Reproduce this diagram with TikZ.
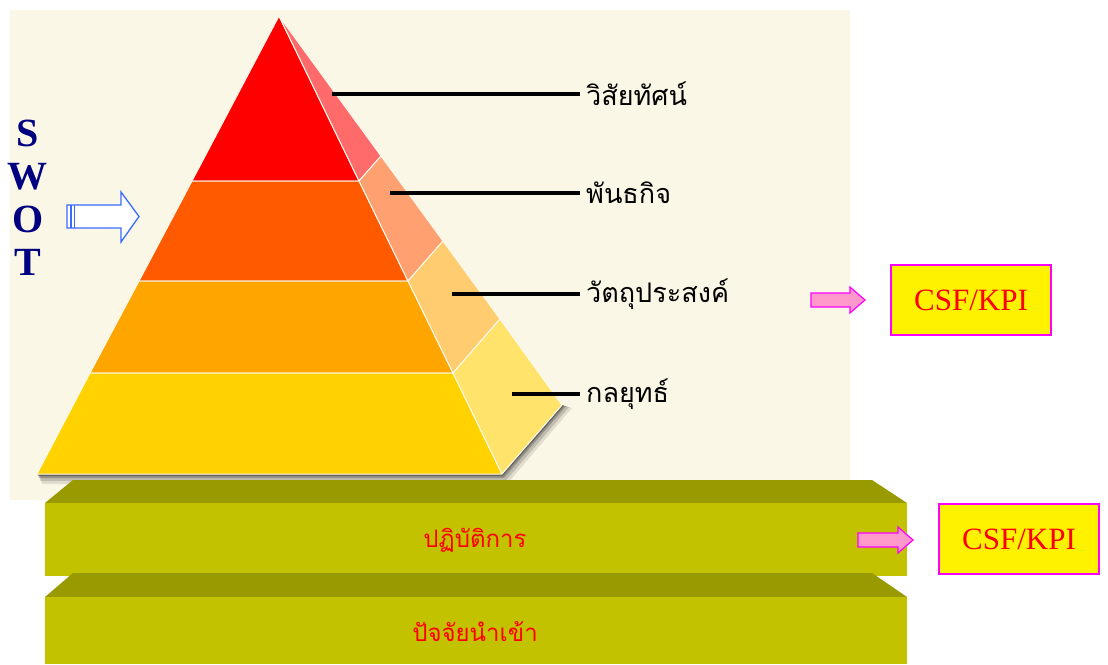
\documentclass[tikz,border=0pt]{standalone}
\usepackage{fontspec}
\setmainfont{Liberation Serif}
\newfontfamily\thaifont[Script=Thai]{Loma}
\usetikzlibrary{positioning}
\definecolor{cream}{HTML}{FBF7E6}
\definecolor{rfront}{HTML}{FF0000}
\definecolor{rside}{HTML}{FF6B6B}
\definecolor{ofront}{HTML}{FF5A00}
\definecolor{oside}{HTML}{FFA070}
\definecolor{afront}{HTML}{FFA500}
\definecolor{aside}{HTML}{FFCC70}
\definecolor{yfront}{HTML}{FFD200}
\definecolor{yside}{HTML}{FFE36B}
\definecolor{slabtop}{HTML}{999900}
\definecolor{slabfront}{HTML}{C2C200}
\definecolor{swotblue}{HTML}{000080}
\definecolor{arrowblue}{HTML}{3A6BFF}
\definecolor{pinkfill}{HTML}{FF99CC}
\definecolor{magentaline}{HTML}{FF00FF}
\tikzset{
  band/.style={draw=cream!70!white, line width=1pt, line join=round},
  leader/.style={draw=black, line width=3.5pt},
  pyrlabel/.style={anchor=west, font=\thaifont\fontsize{27}{30}\selectfont, inner sep=0pt},
  swotletter/.style={font=\bfseries\fontsize{40}{44}\selectfont, text=swotblue, inner sep=0pt},
  csfbox/.style={draw=magentaline, line width=1.5pt, fill=yellow, text=red, minimum width=160pt, minimum height=70pt, font=\fontsize{31}{34}\selectfont, inner sep=0pt},
  pinkarrow/.style={draw=magentaline, line width=1.2pt, fill=pinkfill, line join=miter},
  slablabel/.style={text=red, font=\thaifont\fontsize{24}{28}\selectfont, inner sep=0pt},
}
\begin{document}
\begin{tikzpicture}[x=1pt,y=-1pt]
\useasboundingbox (0,0) rectangle (1108,664);
\fill[white] (0,0) rectangle (1108,664);
\fill[cream] (10,10) rectangle (850,500);
% shadow of pyramid
\foreach \o/\a in {10/0.10,7/0.15,4/0.22,2/0.3}{
  \fill[black, opacity=\a] (37+\o*0.3,474) -- (37+\o*0.5,474+\o) -- (502+\o*0.5,474+\o) -- (562+\o,405+\o*0.3) -- (562,405) -- (502,474) -- cycle;
}
% pyramid
\filldraw[band, fill=rfront] (279,16) -- (359,181) -- (192,181) -- cycle;
\filldraw[band, fill=rside] (279,16) -- (381,156) -- (359,181) -- cycle;
\filldraw[band, fill=ofront] (192,181) -- (359,181) -- (408,281) -- (139,281) -- cycle;
\filldraw[band, fill=oside] (359,181) -- (381,156) -- (443,241) -- (408,281) -- cycle;
\filldraw[band, fill=afront] (139,281) -- (408,281) -- (453,373) -- (90,373) -- cycle;
\filldraw[band, fill=aside] (408,281) -- (443,241) -- (500,319) -- (453,373) -- cycle;
\filldraw[band, fill=yfront] (90,373) -- (453,373) -- (502,474) -- (37,474) -- cycle;
\filldraw[band, fill=yside] (453,373) -- (500,319) -- (562,405) -- (502,474) -- cycle;
% labels and leaders
\coordinate (p1) at (332,94);
\coordinate (p2) at (390,193);
\coordinate (p3) at (452,294);
\coordinate (p4) at (512,394);
\node[pyrlabel] (l1) at (586,94) {วิสัยทัศน์};
\node[pyrlabel] (l2) at (586,193) {พันธกิจ};
\node[pyrlabel] (l3) at (586,294) {วัตถุประสงค์};
\node[pyrlabel] (l4) at (586,394) {กลยุทธ์};
\draw[leader] (p1) -- ([xshift=-6pt]l1.west |- p1);
\draw[leader] (p2) -- ([xshift=-6pt]l2.west |- p2);
\draw[leader] (p3) -- ([xshift=-6pt]l3.west |- p3);
\draw[leader] (p4) -- ([xshift=-6pt]l4.west |- p4);
% SWOT
\node[swotletter] (s) at (28,133) {S};
\node[swotletter] (w) at (28,177) {W};
\node[swotletter] (o) at (28,219) {O};
\node[swotletter] (t) at (28,262) {T};
% blue outlined arrow
\filldraw[draw=arrowblue, fill=white, line width=1.3pt, line join=miter]
  (67,205) -- (121,205) -- (121,192) -- (139,216.5) -- (121,242) -- (121,228) -- (67,228) -- cycle;
\draw[arrowblue, line width=1.3pt] (71,205) -- (71,228);
\draw[arrowblue, line width=1pt] (74,205) -- (74,228);
% slabs
\fill[slabtop] (73,480) -- (872,480) -- (907,503) -- (45,503) -- cycle;
\fill[slabfront] (45,503) rectangle (907,576);
\fill[slabtop] (73,573) -- (872,573) -- (907,597) -- (45,597) -- cycle;
\fill[slabfront] (45,597) rectangle (907,664);
\node[slablabel] (ops) at (475,540) {ปฏิบัติการ};
\node[slablabel] (inp) at (475,632) {ปัจจัยนำเข้า};
% CSF/KPI boxes and pink arrows
\node[csfbox] (c1) at (971,300) {CSF/KPI};
\node[csfbox] (c2) at (1019,539) {CSF/KPI};
\filldraw[pinkarrow] (811,293) -- (850,293) -- (850,287) -- (865,300) -- (850,313) -- (850,307) -- (811,307) -- cycle;
\filldraw[pinkarrow] (858,533) -- (898,533) -- (898,527) -- (913,540) -- (898,553) -- (898,547) -- (858,547) -- cycle;
\end{tikzpicture}
\end{document}
